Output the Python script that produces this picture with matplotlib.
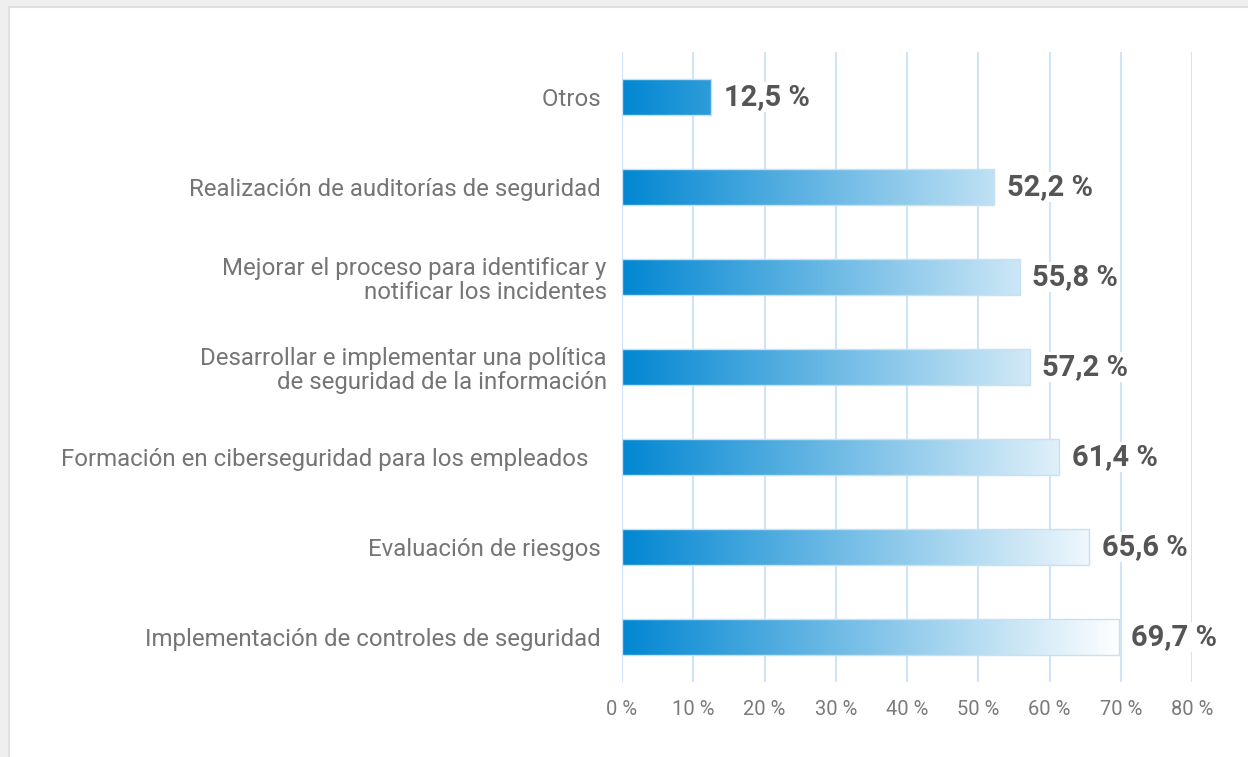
import numpy as np
import matplotlib.pyplot as plt
from matplotlib.colors import LinearSegmentedColormap
from matplotlib.patches import Rectangle

plt.rcParams['font.family'] = ['Roboto', 'DejaVu Sans']

categories = [
    'Otros ',
    'Realización de auditorías de seguridad ',
    'Mejorar el proceso para identificar y\nnotificar los incidentes',
    'Desarrollar e implementar una política\nde seguridad de la información',
    'Formación en ciberseguridad para los empleados   ',
    'Evaluación de riesgos ',
    'Implementación de controles de seguridad ',
]
values = [12.5, 52.2, 55.8, 57.2, 61.4, 65.6, 69.7]
value_labels = ['12,5 %', '52,2 %', '55,8 %', '57,2 %', '61,4 %', '65,6 %', '69,7 %']
ticks = [0, 10, 20, 30, 40, 50, 60, 70, 80]
tick_labels = ['0 %', '10 %', '20 %', '30 %', '40 %', '50 %', '60 %', '70 %', '80 %']

W, H = 1248, 757
fig = plt.figure(figsize=(W / 100, H / 100), dpi=100, facecolor='#efefef')

# white card
card = Rectangle((9 / W, -0.01), 1.0, 1 - 7 / H + 0.01, transform=fig.transFigure,
                 facecolor='white', edgecolor='#e0e0e0', lw=1.5, zorder=-10)
fig.add_artist(card)

ax = fig.add_axes([622 / W, 75 / H, 570 / W, 630 / H])
ax.set_facecolor('none')

cmap = LinearSegmentedColormap.from_list('blu', ['#0287d2', '#ffffff'])
grad = np.linspace(0, 1, 256).reshape(1, -1)

y = np.arange(len(values))
bars = ax.barh(y, values, height=0.39, color='none', edgecolor='#c6e0f4', lw=1, zorder=3)
for bar in bars:
    x0, y0 = bar.get_x(), bar.get_y()
    im = ax.imshow(grad, cmap=cmap, aspect='auto', extent=[0, 70, y0, y0 + bar.get_height()],
                   origin='lower', zorder=2, interpolation='bicubic')
    im.set_clip_path(bar)

for yi, v, lab in zip(y, values, value_labels):
    ax.text(v + 1.8, yi, lab, ha='left', va='center', fontsize=21, fontweight='bold',
            color='#555555', zorder=4,
            bbox=dict(facecolor='white', edgecolor='none', pad=1))

ax.set_xlim(0, 80)
ax.set_ylim(len(values) - 0.5, -0.5)
ax.set_xticks(ticks)
ax.set_xticklabels(tick_labels, fontsize=14.5, color='#7a7a7a')
ax.set_yticks(y)
ax.set_yticklabels(categories, fontsize=17.3, color='#757575', linespacing=1.1)
ax.tick_params(axis='both', length=0)
ax.tick_params(axis='x', pad=13)
ax.tick_params(axis='y', pad=11)
for s in ax.spines.values():
    s.set_visible(False)
ax.grid(axis='x', color='#cfe5f7', lw=1.5, zorder=1)
ax.set_axisbelow(True)

fig.savefig('out.png', dpi=100, facecolor=fig.get_facecolor())
